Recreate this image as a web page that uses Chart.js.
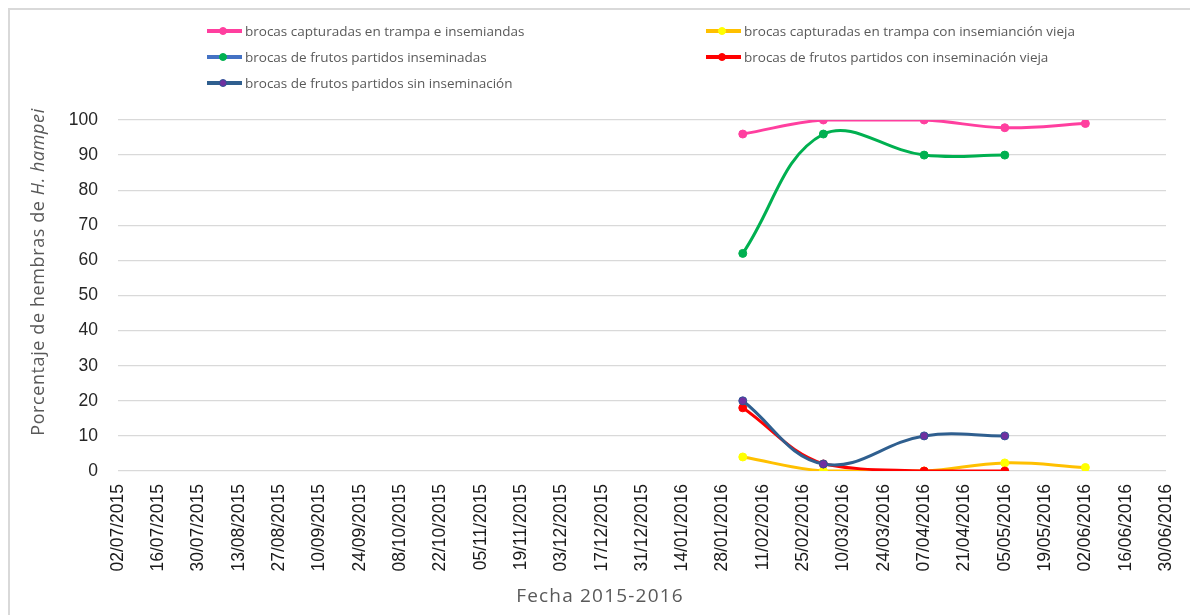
<!DOCTYPE html>
<html>
<head>
<meta charset="utf-8">
<script src="https://cdn.jsdelivr.net/npm/chart.js@4.4.1/dist/chart.umd.min.js"></script>
<style>
  body { margin: 0; background: #fff; }
  #wrap { position: relative; width: 1190px; height: 615px; overflow: hidden; }
  #frame { position: absolute; left: 8px; top: 8px; width: 1400px; height: 800px;
           border-left: 2px solid #d9d9d9; border-top: 2px solid #d9d9d9; pointer-events: none; }
  canvas { position: absolute; left: 0; top: 0; }
  .leg { position: absolute; height: 20px; font: 13.5px "Open Sans", sans-serif; color: #595959;
         white-space: nowrap; line-height: 20px; }
  .leg .ln { position: absolute; left: 0; top: 8px; width: 35px; height: 4px; }
  .leg .mk { position: absolute; left: 12px; top: 6px; width: 8px; height: 8px; border-radius: 50%; box-sizing: border-box; }
  .leg .tx { position: absolute; left: 38px; top: 0; }
  #ytitle { position: absolute; left: 37px; top: 272px; transform: translate(-50%, -50%) rotate(-90deg);
            font: 18px "Open Sans", sans-serif; color: #595959; white-space: nowrap; letter-spacing: 0.6px; }
  #xtitle { position: absolute; left: 600px; top: 595px; transform: translate(-50%, -50%);
            font: 19px "Open Sans", sans-serif; color: #595959; white-space: nowrap; letter-spacing: 1.2px; }
</style>
</head>
<body>
<div id="wrap">
  <canvas id="chart" width="1190" height="615"></canvas>
  <div id="frame"></div>
  <div id="legend"></div>
  <div id="ytitle">Porcentaje de hembras de <i>H. hampei</i></div>
  <div id="xtitle">Fecha 2015-2016</div>
</div>
<script>
// fechas de muestreo y porcentajes
const fechaInicio = "2015-07-02";
const fechaFin = "2016-06-30";
const fechas = ["2016-02-04", "2016-03-03", "2016-04-07", "2016-05-05", "2016-06-02"];

const trampaInseminadas = [96, 100, 100, 97.8, 99];
const trampaVieja = [4, 0, 0, 2.3, 1];
const frutosInseminadas = [62, 96, 90, 90, null];
const frutosVieja = [18, 2, 0, 0, null];
const frutosSinInseminacion = [20, 2, 10, 10, null];

const yMin = 0, yMax = 100, yPaso = 10;
const xPasoDias = 14;

const series = [
  { label: "brocas capturadas en trampa e insemiandas", data: trampaInseminadas,
    line: "#ff3f9f", fill: "#ff3f9f", edge: "#ff3f9f", legLine: "#ff3f9f" },
  { label: "brocas capturadas en trampa con insemianción vieja", data: trampaVieja,
    line: "#ffc000", fill: "#ffff00", edge: "#ffff00", legLine: "#ffc000" },
  { label: "brocas de frutos partidos inseminadas", data: frutosInseminadas,
    line: "#00b050", fill: "#00b050", edge: "#00b050", legLine: "#4472c4" },
  { label: "brocas de frutos partidos con inseminación vieja", data: frutosVieja,
    line: "#ff0000", fill: "#ff0000", edge: "#ff0000", legLine: "#ff0000" },
  { label: "brocas de frutos partidos sin inseminación", data: frutosSinInseminacion,
    line: "#2f5f8f", fill: "#7030a0", edge: "#2f5597", legLine: "#2f5f8f" }
];

const DIA = 86400000;
const t0 = Date.parse(fechaInicio + "T00:00:00Z");
const dias = f => Math.round((Date.parse(f + "T00:00:00Z") - t0) / DIA);

function fmt(n) {
  const d = new Date(t0 + n * DIA);
  const p = v => String(v).padStart(2, "0");
  return p(d.getUTCDate()) + "/" + p(d.getUTCMonth() + 1) + "/" + d.getUTCFullYear();
}

const datasets = series.map((s, i) => ({
  label: s.label,
  data: fechas.map((f, j) => ({ x: dias(f), y: s.data[j] })).filter(p => p.y !== null),
  borderColor: s.line,
  backgroundColor: s.fill,
  pointBackgroundColor: s.fill,
  pointBorderColor: s.edge,
  pointBorderWidth: 1,
  pointRadius: 4,
  borderWidth: 3,
  tension: 0.4,
  order: series.length - i
}));

// leyenda en dos columnas como la del original
const legend = document.getElementById("legend");
const cols = [207, 706], rows = [21, 47, 73];
series.forEach((s, i) => {
  const el = document.createElement("div");
  el.className = "leg";
  el.style.left = cols[i % 2] + "px";
  el.style.top = rows[Math.floor(i / 2)] + "px";
  el.innerHTML = `<span class="ln" style="background:${s.legLine}"></span>
    <span class="mk" style="background:${s.fill};border:1px solid ${s.edge}"></span>
    <span class="tx">${s.label}</span>`;
  legend.appendChild(el);
});

new Chart(document.getElementById("chart"), {
  type: "line",
  data: { datasets },
  options: {
    responsive: false,
    animation: false,
    events: [],
    layout: { padding: { top: 120, right: 24, bottom: 0, left: 0 } },
    plugins: { legend: { display: false }, tooltip: { enabled: false } },
    scales: {
      x: {
        type: "linear",
        min: 0,
        max: dias(fechaFin),
        grid: { display: false },
        border: { display: false },
        ticks: {
          stepSize: xPasoDias,
          autoSkip: false,
          maxRotation: 90,
          minRotation: 90,
          padding: 5,
          color: "#1a1a1a",
          font: { family: "Liberation Sans", size: 17.5 },
          callback: v => fmt(v)
        },
        afterFit: s => { s.height = 144; s.paddingLeft = 0; s.paddingRight = 0; }
      },
      y: {
        min: yMin,
        max: yMax,
        grid: { color: "#d9d9d9", lineWidth: 1.3, drawTicks: false },
        border: { display: false },
        ticks: {
          stepSize: yPaso,
          padding: 20,
          color: "#262626",
          font: { family: "Liberation Sans", size: 17.5 }
        },
        afterFit: s => { s.width = 118; s.paddingTop = 0; s.paddingBottom = 0; }
      }
    }
  }
});
</script>
</body>
</html>
